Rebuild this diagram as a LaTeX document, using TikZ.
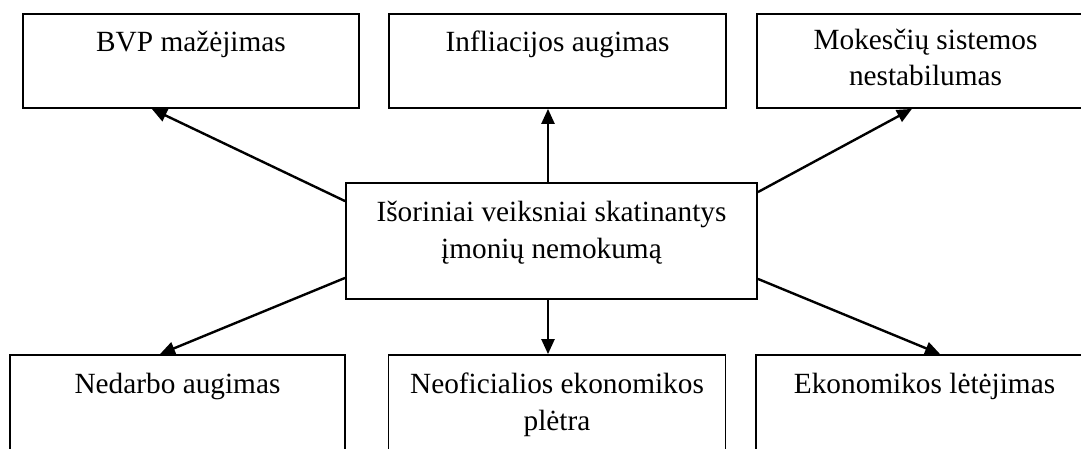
\documentclass[tikz,border=0pt]{standalone}
\usepackage{fontspec}
\setmainfont{Liberation Serif}
\usetikzlibrary{arrows.meta,calc}
\tikzset{
  boxnode/.style={draw, line width=1.8pt, rectangle, inner sep=0pt},
  txt/.style={anchor=base, inner sep=0pt, font=\fontsize{29.3}{37}\selectfont},
  arr/.style={line width=2.4pt, -{Triangle[length=15pt,width=13pt]}}
}
\newcommand{\twolines}[2]{\begin{tabular}[t]{@{}c@{}}#1\\#2\end{tabular}}
\begin{document}
\begin{tikzpicture}[x=1pt,y=-1pt]
\useasboundingbox (0,0) rectangle (1081,449);
\clip (0,0) rectangle (1081,449);
% top boxes
\node[boxnode, minimum width=336pt, minimum height=94pt] (tl) at (191,61) {};
\node[boxnode, minimum width=337pt, minimum height=94pt] (tm) at (557.5,61) {};
\node[boxnode, minimum width=337pt, minimum height=94pt] (tr) at (925.5,61) {};
% centre
\node[boxnode, minimum width=411pt, minimum height=116pt] (c) at (551.5,241) {};
% bottom boxes
\node[boxnode, minimum width=335pt, minimum height=115pt] (bl) at (177.5,412.5) {};
\node[boxnode, minimum width=337pt, minimum height=115pt] (bm) at (557,412.5) {};
\node[boxnode, minimum width=337pt, minimum height=115pt] (br) at (924.5,412.5) {};
% texts
\node[txt] (tlt) at (191,52) {BVP mažėjimas};
\node[txt] (tmt) at (557.5,52) {Infliacijos augimas};
\node[txt] (trt) at (925.5,50) {\renewcommand\arraystretch{0.95}\twolines{Mokesčių sistemos}{nestabilumas}};
\node[txt] (ct) at (551.5,222) {\twolines{Išoriniai veiksniai skatinantys}{įmonių nemokumą}};
\node[txt] (blt) at (177.5,393) {Nedarbo augimas};
\node[txt] (bmt) at (557,393) {\twolines{Neoficialios ekonomikos}{plėtra}};
\node[txt] (brt) at (924.5,393) {Ekonomikos lėtėjimas};
% connectors
\draw[arr] ([yshift=-19pt]c.north west) -- ($(tl.south west)!0.384!(tl.south east)$);
\draw[arr] ([xshift=-3.5pt]c.north) -- ([xshift=-3.5pt]c.north |- tm.south);
\draw[arr] ([yshift=-10pt]c.north east) -- ($(tr.south west)!0.46!(tr.south east)$);
\draw[arr] ([yshift=22pt]c.south west) -- ($(bl.north west)!0.448!(bl.north east)$);
\draw[arr] ([xshift=-3.5pt]c.south) -- ([xshift=-3.5pt]c.south |- bm.north);
\draw[arr] ([yshift=21pt]c.south east) -- ($(br.north west)!0.546!(br.north east)$);
\end{tikzpicture}
\end{document}
